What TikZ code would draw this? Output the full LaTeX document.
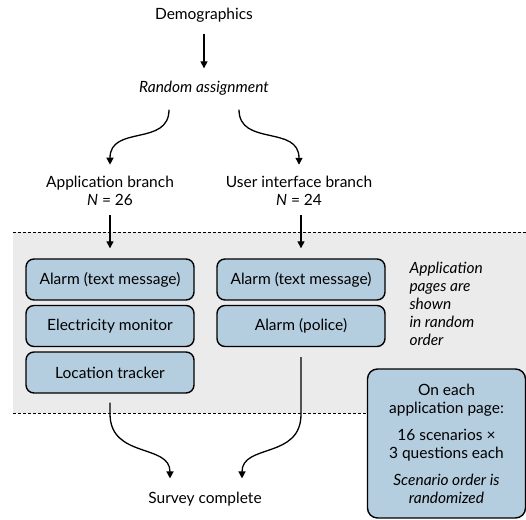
\documentclass[tikz,border=0pt]{standalone}
\usepackage{fontspec}
\setmainfont{Lato}
\usetikzlibrary{arrows.meta}
\definecolor{boxblue}{HTML}{B4CDDF}
\definecolor{bandgrey}{HTML}{EBEBEB}

\begin{document}
\begin{tikzpicture}[x=1pt,y=-1pt,
    every node/.style={font=\fontsize{15.5}{18}\selectfont},
    pagebox/.style={draw, fill=boxblue, line width=1.4pt, rounded corners=8pt,
        minimum width=168pt, minimum height=41pt},
    flow/.style={line width=1.3pt, -{Triangle[length=7pt,width=7pt]}},
    dotline/.style={line width=1pt, dash pattern=on 3pt off 2pt}]
    \useasboundingbox (0,0) rectangle (526,519);

    % Shaded band for the application pages
    \fill[bandgrey] (13,232) rectangle (526,413);
    \draw[dotline] (13,232) -- (526,232);
    \draw[dotline] (13,413) -- (367,413);

    % Top of the flow
    \node (demo) at (204,15) {Demographics};
    \node (assign) at (204,88) {\itshape Random assignment};

    % The two branches
    \node[align=center] (appbr) at (110,191) {Application branch\\\textit{N} = 26};
    \node[align=center] (uibr) at (299,191) {User interface branch\\\textit{N} = 24};

    % Application pages
    \node[pagebox] (alarmA) at (110,279.5) {Alarm (text message)};
    \node[pagebox] (elec) at (110,326) {Electricity monitor};
    \node[pagebox] (loc) at (110,372.5) {Location tracker};
    \node[pagebox] (alarmB) at (301,279.5) {Alarm (text message)};
    \node[pagebox] (police) at (301,326) {Alarm (police)};

    % Note on the right
    \node[anchor=west, align=left, font=\fontsize{15.5}{18}\selectfont\itshape] (order) at (406,303.5)
        {Application\\pages are\\shown\\in random\\order};

    % Box with the page contents
    \node[draw, fill=boxblue, line width=1.4pt, rounded corners=10pt, align=center,
        minimum width=158pt, minimum height=149pt] (info) at (446.5,443.5)
        {On each\\application page:\\[9pt]16 scenarios ×\\3 questions each\\[9pt]\textit{Scenario order is}\\\textit{randomized}};

    % End
    \node (survey) at (205,499) {Survey complete};

    % Arrows
    \draw[flow, shorten <=8pt, shorten >=9pt] (demo) -- (assign);
    \draw[flow, shorten <=11pt, shorten >=8pt] ([xshift=-35pt]assign.south) .. controls +(0,48) and +(0,-48) .. (appbr.north);
    \draw[flow, shorten <=11pt, shorten >=8pt] ([xshift=35pt]assign.south) .. controls +(0,48) and +(0,-48) .. (uibr.north);
    \draw[flow, shorten <=6pt, shorten >=10pt] (appbr) -- (alarmA);
    \draw[flow, shorten <=6pt, shorten >=10pt] (uibr.south -| alarmB) -- (alarmB);
    \draw[flow, shorten <=9pt, shorten >=10pt] (loc.south) -- ++(0,20)
        .. controls +(0,45) and +(0,-45) .. ([xshift=-35pt]survey.north);
    \draw[flow, shorten <=10pt, shorten >=10pt] (police.south) -- ++(0,67)
        .. controls +(0,45) and +(0,-45) .. ([xshift=37pt]survey.north);
\end{tikzpicture}
\end{document}
